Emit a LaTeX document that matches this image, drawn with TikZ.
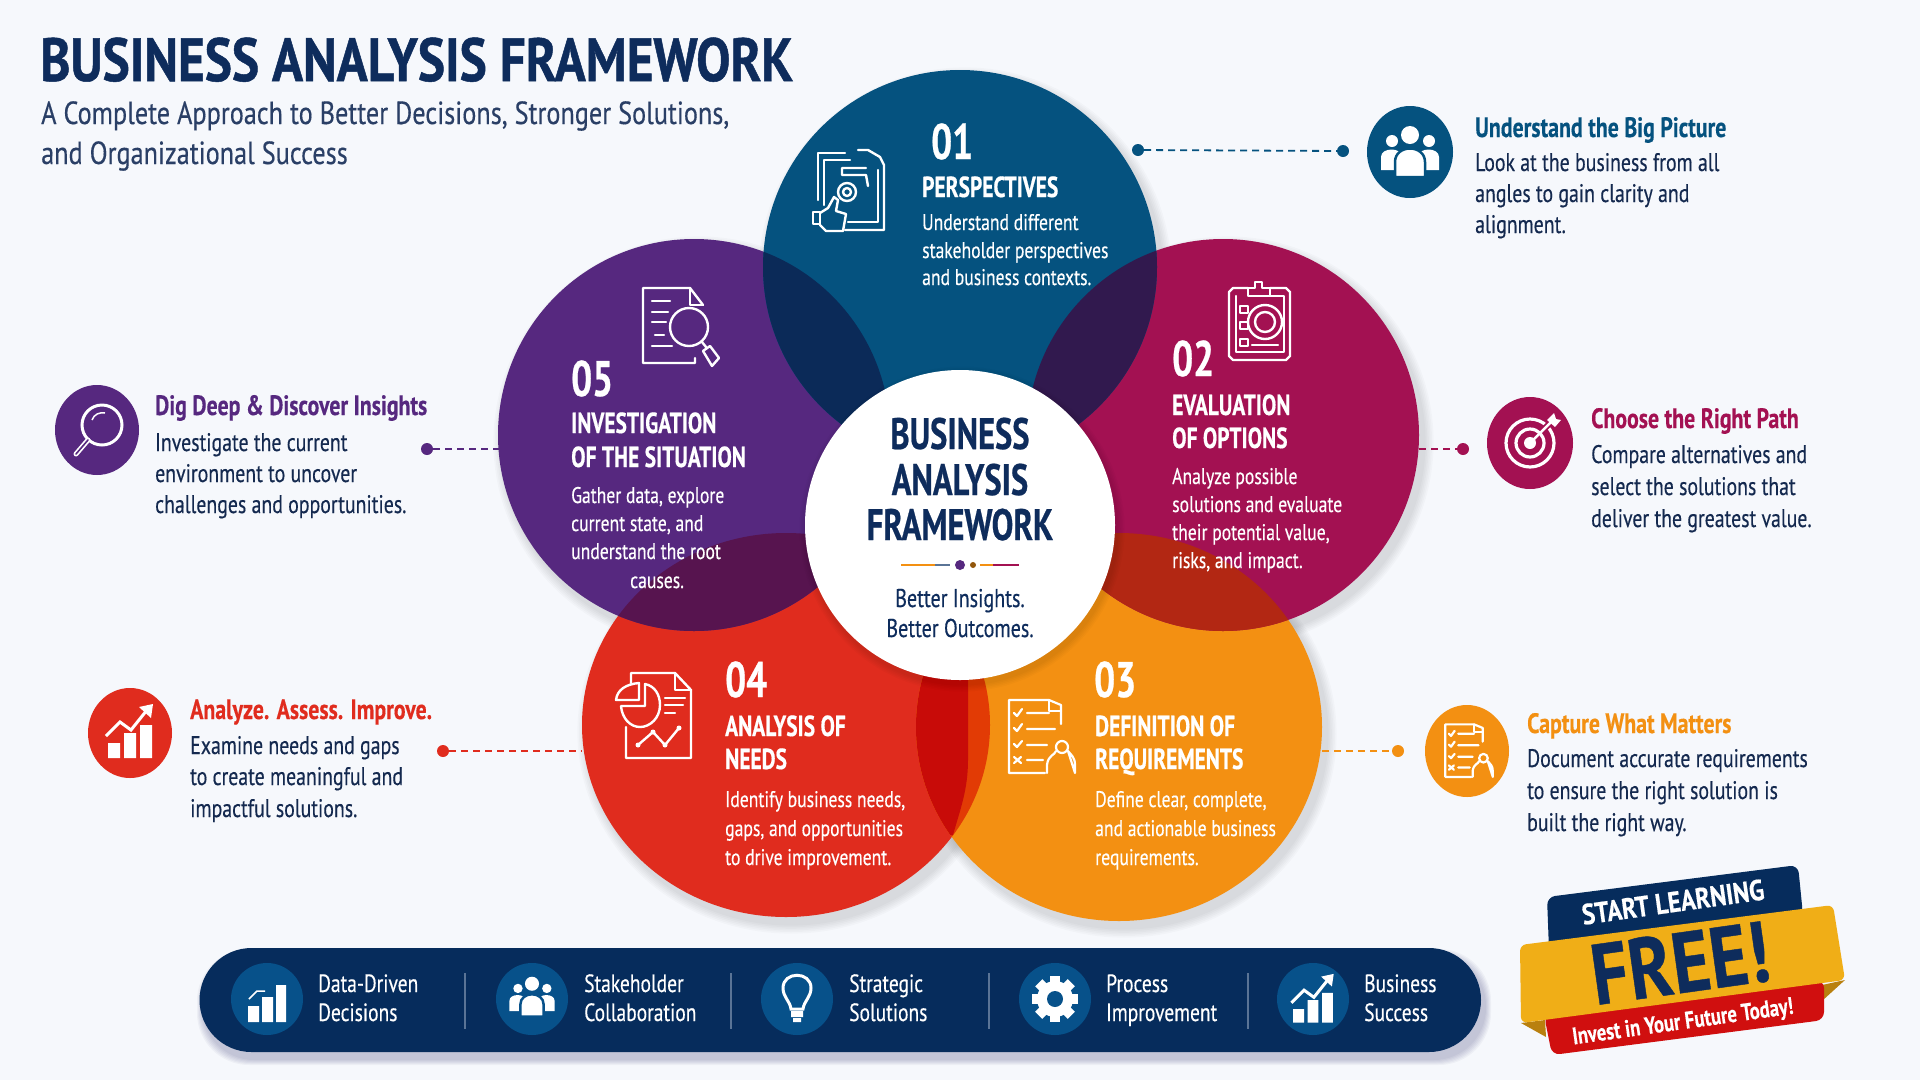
\documentclass[tikz,border=0pt]{standalone}
\usepackage{fontspec}
\setmainfont[FakeStretch=0.78,FakeBold=0.35]{PT Sans}
\newfontfamily\hdfont[FakeStretch=0.74,FakeBold=0.5]{PT Sans}
\newfontfamily\ttfont[FakeStretch=0.84,FakeBold=0.8]{PT Sans}
\newfontfamily\subfont[FakeStretch=0.82,FakeBold=0.35]{PT Sans}
\newfontfamily\frfont[FakeStretch=0.85,FakeBold=0.5]{PT Sans}
\definecolor{bgc}{HTML}{F6F8FC}
\definecolor{navy}{HTML}{0E2C5C}
\definecolor{subc}{HTML}{2A3F66}
\definecolor{bodyc}{HTML}{14294F}
\definecolor{cblue}{HTML}{05527F}
\definecolor{cpurple}{HTML}{56287F}
\definecolor{cmag}{HTML}{A31152}
\definecolor{cred}{HTML}{E02C1E}
\definecolor{corange}{HTML}{F39012}
\definecolor{barc}{HTML}{062C5C}
\definecolor{barci}{HTML}{07518A}
\definecolor{sepc}{HTML}{5A7496}
\definecolor{lbp}{HTML}{0B2A58}
\definecolor{lbm}{HTML}{31194E}
\definecolor{lpr}{HTML}{57144F}
\definecolor{lmo}{HTML}{B22713}
\definecolor{lroa}{HTML}{E23B05}
\definecolor{lrob}{HTML}{C80B08}
\definecolor{fold}{HTML}{B9800F}
\definecolor{bred}{HTML}{D00F0F}
\definecolor{byel}{HTML}{F0AE17}
\newcommand\fs[1]{\fontsize{#1}{#1}\selectfont}
\newcommand\TL[5][]{\node[tl,#1] (#2) at (#3,#4) {#5};}
\newcommand\lens[3]{\begin{scope}\clip #1;\fill[#3] #2;\end{scope}}
\newcommand\shad[1]{\foreach \i in {1,...,6}{\fill[black,opacity=.018] (#1) ++(5,7) ellipse [x radius=\ER+\i*1.6,y radius=\FR+\i*1.6];}}
\newcommand\people[4]{\begin{scope}[shift={(#1,#2)},scale=#3]
 \fill[white] (0,-17) circle [radius=9] (-18,-11) circle [radius=6] (19,-11) circle [radius=6];
 \fill[white] (-29,18) -- (-29,5) .. controls (-29,-5) and (-8,-5) .. (-8,5) -- (-8,18) -- cycle;
 \fill[white] (29,18) -- (29,5) .. controls (29,-5) and (8,-5) .. (8,5) -- (8,18) -- cycle;
 \fill[white,draw=#4,line width=2.5pt] (-15,25) -- (-15,10) .. controls (-15,-8) and (15,-8) .. (15,10) -- (15,25) -- cycle;
\end{scope}}
\newcommand\risechart[4]{\begin{scope}[shift={(#1,#2)},scale=#3]
 \fill[white] (-22,10) rectangle (-10,25) (-6,0) rectangle (6,25) (10,-8) rectangle (22,25);
 \draw[white,line width=3pt] (-24,3) -- (-10,-11) -- (1,-3) -- (17,-23);
 \fill[white] (23,-29) -- (9,-26) -- (21,-15) -- cycle;
\end{scope}}
\newcommand\docreq[3]{\begin{scope}[shift={(#1,#2)},scale=#3,white,line width=2.2pt,line join=round,line cap=round]
 \draw (26,-13) -- (26,-32) -- (14,-37) -- (-26,-37) -- (-26,36) -- (10,36);
 \draw (14,-37) -- (14,-26) -- (26,-26);
 \draw (-21,-24) -- (-18,-21) -- (-13,-28) (-8,-24) -- (14,-24);
 \draw (-21,-9) -- (-18,-6) -- (-13,-13) (-8,-8) -- (20,-8);
 \draw (-21,7) -- (-18,10) -- (-13,4) (-8,8) -- (12,8);
 \draw (-21,20) -- (-14,26) (-14,20) -- (-21,26) (-8,23) -- (8,23);
 \draw (27,10) circle [radius=6];
 \draw (12,36) -- (12,28) .. controls (13,18) and (20,18) .. (21,14) (33,14) .. controls (36,18) and (40,20) .. (40,28) -- (40,36) -- cycle;
\end{scope}}
\begin{document}
\begin{tikzpicture}[x=1pt,y=-1pt,
 tl/.style={anchor=base west,inner sep=0pt},
 tc/.style={anchor=base},
 ttl/.style={font=\ttfont\bfseries\fs{61},text=navy},
 subt/.style={font=\subfont\fs{32},text=subc},
 num/.style={font=\hdfont\bfseries\fs{50},text=white},
 hd/.style={font=\hdfont\bfseries\fs{29},text=white},
 ct/.style={font=\fs{22.6},text=white},
 shd/.style={font=\bfseries\fs{28}},
 sbd/.style={font=\fs{25.4},text=bodyc},
 bart/.style={font=\fs{25},text=white},
 mid/.style={font=\hdfont\bfseries\fs{44},text=navy},
 mids/.style={font=\fs{25.7},text=navy},
 dotn/.style={circle,inner sep=0pt,minimum size=12pt},
 dashl/.style={line width=1.8pt,dash pattern=on 7pt off 5pt},
 ico/.style={white,line width=2.4pt,line join=round,line cap=round}]
\useasboundingbox (0,0) rectangle (1920,1080);
\fill[bgc] (0,0) rectangle (1920,1080);
% centres
\coordinate (B) at (960,267);
\coordinate (P) at (694,435);
\coordinate (M) at (1223,435);
\coordinate (R) at (786,725);
\coordinate (O) at (1119,727);
\coordinate (C) at (960,525);
% shadows
\def\ER{197}\def\FR{197}\shad{B}
\def\ER{196}\def\FR{196}\shad{P}\shad{M}
\def\ER{204}\def\FR{192}\shad{R}
\def\ER{203}\def\FR{194}\shad{O}
% discs
\fill[cred] (R) ellipse [x radius=204,y radius=192];
\fill[corange] (O) ellipse [x radius=203,y radius=194];
\fill[cpurple] (P) circle [radius=196];
\fill[cmag] (M) circle [radius=196];
\fill[cblue] (B) circle [radius=197];
% overlaps
\lens{(B) circle [radius=197]}{(P) circle [radius=196]}{lbp}
\lens{(B) circle [radius=197]}{(M) circle [radius=196]}{lbm}
\lens{(P) circle [radius=196]}{(R) ellipse [x radius=204,y radius=192]}{lpr}
\lens{(M) circle [radius=196]}{(O) ellipse [x radius=203,y radius=194]}{lmo}
\begin{scope}
 \clip (R) ellipse [x radius=204,y radius=192];
 \clip (O) ellipse [x radius=203,y radius=194];
 \fill[lroa] (900,660) rectangle (1000,840);
 \fill[lrob] (900,660) -- (968,660) -- (968,760) .. controls (968,790) and (960,810) .. (953,835) -- (900,840) -- cycle;
\end{scope}
% centre disc
\foreach \i in {1,...,5}{\fill[black,opacity=.02] (C) ++(2,4) circle [radius=155+\i*1.5];}
\fill[white] (C) circle [radius=155];
% title
\TL[ttl]{t1}{40}{81}{BUSINESS ANALYSIS FRAMEWORK}
\TL[subt]{t2}{41}{124}{A Complete Approach to Better Decisions, Stronger Solutions,}
\TL[subt]{t3}{41}{164}{and Organizational Success}
% 01
\TL[num]{n1}{931}{159}{01}
\TL[hd]{h1}{922}{197}{PERSPECTIVES}
\TL[ct]{c1a}{922}{230}{Understand different}
\TL[ct]{c1b}{922}{258}{stakeholder perspectives}
\TL[ct]{c1c}{922}{285}{and business contexts.}
% 05
\TL[num]{n5}{571}{396}{05}
\TL[hd]{h5a}{571}{433}{INVESTIGATION}
\TL[hd]{h5b}{571}{467}{OF THE SITUATION}
\TL[ct]{c5a}{571}{503}{Gather data, explore}
\TL[ct]{c5b}{571}{531}{current state, and}
\TL[ct]{c5c}{571}{559}{understand the root}
\TL[ct]{c5d}{630}{588}{causes.}
% 02
\TL[num]{n2}{1172}{376}{02}
\TL[hd]{h2a}{1172}{415}{EVALUATION}
\TL[hd]{h2b}{1172}{448}{OF OPTIONS}
\TL[ct]{c2a}{1172}{484}{Analyze possible}
\TL[ct]{c2b}{1172}{512}{solutions and evaluate}
\TL[ct]{c2c}{1172}{540}{their potential value,}
\TL[ct]{c2d}{1172}{568}{risks, and impact.}
% 04
\TL[num]{n4}{725}{697}{04}
\TL[hd]{h4a}{725}{736}{ANALYSIS OF}
\TL[hd]{h4b}{725}{769}{NEEDS}
\TL[ct]{c4a}{725}{807}{Identify business needs,}
\TL[ct]{c4b}{725}{836}{gaps, and opportunities}
\TL[ct]{c4c}{725}{865}{to drive improvement.}
% 03
\TL[num]{n3}{1094}{697}{03}
\TL[hd]{h3a}{1095}{736}{DEFINITION OF}
\TL[hd]{h3b}{1095}{769}{REQUIREMENTS}
\TL[ct]{c3a}{1095}{807}{Define clear, complete,}
\TL[ct]{c3b}{1095}{836}{and actionable business}
\TL[ct]{c3c}{1095}{865}{requirements.}
% centre text
\TL[tc,mid]{m1}{960}{449}{BUSINESS}
\TL[tc,mid]{m2}{960}{495}{ANALYSIS}
\TL[tc,mid]{m3}{960}{540}{FRAMEWORK}
\TL[tc,mids]{m4}{960}{607}{Better Insights.}
\TL[tc,mids]{m5}{960}{637}{Better Outcomes.}
\draw[corange,line width=1.8pt] (901,565) -- (935,565);
\draw[sepc,line width=1.8pt] (935,565) -- (950,565);
\fill[cpurple] (960,565) circle [radius=5];
\fill[corange!60!black] (973,565) circle [radius=3];
\draw[corange,line width=1.8pt] (980,565) -- (993,565);
\draw[cmag,line width=1.8pt] (993,565) -- (1019,565);
% side callouts: icon discs
\fill[cblue] (1410,152) ellipse [x radius=43,y radius=46];
\people{1410}{152}{1}{cblue}
\fill[cmag] (1530,443) ellipse [x radius=43,y radius=46];
\begin{scope}[shift={(1530,443)}]
 \draw[white,line width=3.2pt] (0,0) circle [radius=24] (0,0) circle [radius=14];
 \fill[white] (0,0) circle [radius=6];
 \draw[cmag,line width=6pt] (12,-12) -- (28,-28);
 \draw[white,line width=2.5pt] (0,0) -- (22,-22);
 \fill[white] (17,-23) -- (24,-30) -- (26,-24) -- (31,-23) -- (25,-16) -- cycle;
\end{scope}
\fill[cpurple] (97,430) ellipse [x radius=42,y radius=45];
\draw[white,line width=3pt] (102,425) circle [radius=20];
\draw[white,line width=5pt,line cap=round] (88,440) -- (76,454);
\draw[cpurple,line width=1.6pt,line cap=round] (88,440) -- (76,454);
\draw[white,line width=1.5pt] (92,420) .. controls (94,414) and (100,412) .. (105,413);
\fill[cred] (130,733) ellipse [x radius=42,y radius=45];
\risechart{130}{733}{1}{cred}
\fill[corange] (1467,751) ellipse [x radius=42,y radius=46];
\docreq{1464}{751}{.72}{corange}
% side text
\TL[shd,text=cblue]{s1}{1475}{137}{Understand the Big Picture}
\TL[sbd]{s1a}{1475}{171}{Look at the business from all}
\TL[sbd]{s1b}{1475}{202}{angles to gain clarity and}
\TL[sbd]{s1c}{1475}{233}{alignment.}
\TL[shd,text=cmag]{s2}{1591}{428}{Choose the Right Path}
\TL[sbd]{s2a}{1591}{463}{Compare alternatives and}
\TL[sbd]{s2b}{1591}{495}{select the solutions that}
\TL[sbd]{s2c}{1591}{527}{deliver the greatest value.}
\TL[shd,text=cpurple]{s5}{155}{415}{Dig Deep \& Discover Insights}
\TL[sbd]{s5a}{155}{451}{Investigate the current}
\TL[sbd]{s5b}{155}{482}{environment to uncover}
\TL[sbd]{s5c}{155}{513}{challenges and opportunities.}
\TL[shd,text=cred]{s4}{190}{719}{Analyze. Assess. Improve.}
\TL[sbd]{s4a}{190}{754}{Examine needs and gaps}
\TL[sbd]{s4b}{190}{785}{to create meaningful and}
\TL[sbd]{s4c}{190}{817}{impactful solutions.}
\TL[shd,text=corange]{s3}{1527}{733}{Capture What Matters}
\TL[sbd]{s3a}{1527}{767}{Document accurate requirements}
\TL[sbd]{s3b}{1527}{799}{to ensure the right solution is}
\TL[sbd]{s3c}{1527}{831}{built the right way.}
% connectors
\node[dotn,fill=cblue] (d1a) at (1138,150) {};
\node[dotn,fill=cblue] (d1b) at (1343,151) {};
\draw[cblue,dashl] (d1a) -- (d1b);
\node[dotn,fill=cmag] (d2) at (1463,449) {};
\coordinate (e2) at (1419,449);
\draw[cmag,dashl] (e2) -- (d2);
\node[dotn,fill=cpurple] (d5) at (427,449) {};
\coordinate (e5) at (499,449);
\draw[cpurple,dashl] (d5) -- (e5);
\node[dotn,fill=cred] (d4) at (443,751) {};
\coordinate (e4) at (582,751);
\draw[cred,dashl] (d4) -- (e4);
\node[dotn,fill=corange] (d3) at (1398,751) {};
\coordinate (e3) at (1322,751);
\draw[corange,dashl] (e3) -- (d3);
% icons in discs
\begin{scope}[ico]
 % 01
 \draw (845,230) -- (884,230) -- (884,165) -- (880,157) -- (868,150) -- (858,150);
 \draw (845,153) -- (818,153) -- (818,200);
 \draw (824,205) -- (824,160) -- (850,160);
 \draw (866,168) -- (842,168) -- (842,175) -- (866,175) -- (868,186);
 \draw (878,170) -- (878,222) -- (848,222);
 \draw (847,192) circle [radius=9] (847,192) circle [radius=4];
 \draw (813,212) -- (813,224) -- (820,224) -- (820,212) -- cycle;
 \draw (820,213) -- (828,208) -- (834,197) -- (838,200) -- (836,211) -- (846,214) -- (843,231) -- (826,231) -- (820,225);
 % 05
 \draw (703,305) -- (690,288) -- (643,288) -- (643,363) -- (695,363) -- (695,358);
 \draw (690,288) -- (690,305) -- (703,305);
 \draw (652,301) -- (670,301) (652,312) -- (668,312) (652,322) -- (666,322) (655,335) -- (664,335) (652,346) -- (672,346);
 \draw (689,327) circle [radius=19];
 \draw (702,342) -- (706,347);
 \draw (703,351) -- (710,346) -- (719,358) -- (712,366) -- cycle;
 % 02
 \draw (1248,288) -- (1233,288) -- (1229,292) -- (1229,356) -- (1233,360) -- (1286,360) -- (1290,356) -- (1290,292) -- (1286,288) -- (1270,288);
 \draw (1236,296) -- (1236,352) -- (1284,352) -- (1284,296) -- (1270,296);
 \draw (1248,296) -- (1248,288) -- (1255,288) -- (1255,282) -- (1262,282) -- (1262,288) -- (1270,288) -- (1270,296) -- cycle;
 \draw (1265,322) circle [radius=17] (1265,322) circle [radius=10];
 \draw (1240,306) rectangle (1248,313) (1240,322) rectangle (1248,329) (1240,339) rectangle (1248,346);
 \draw (1252,345) -- (1278,345);
 % 04
 \draw (626,727) -- (626,758) -- (691,758) -- (691,690) -- (675,673) -- (631,673) -- (631,683);
 \draw (675,673) -- (675,690) -- (691,690);
 \draw (621,706) -- (645,706) -- (645,684) .. controls (655,686) and (660,695) .. (660,705) .. controls (660,718) and (650,727) .. (640,727) .. controls (630,727) and (622,718) .. (621,706);
 \draw (616,700) -- (639,700) -- (639,683) .. controls (626,684) and (617,690) .. (616,700) -- cycle;
 \draw (665,698) -- (685,698) (665,705) -- (683,705) (665,713) -- (675,713);
 \draw (638,745) -- (653,732) -- (665,745) -- (679,728);
 \fill[white] (638,745) circle [radius=2.5] (653,732) circle [radius=2.5] (665,745) circle [radius=2.5] (679,728) circle [radius=2.5];
\end{scope}
\docreq{1035}{737}{1}{corange}
% bottom bar
\foreach \i in {1,...,6}{\fill[black!70!blue,opacity=.035,rounded corners=52pt] (199-\i*1+4,948-\i*1+7) rectangle (1481+\i*1+4,1052+\i*1+7);}
\fill[barc,rounded corners=52pt] (199.5,948) rectangle (1481,1052);
\foreach \x in {465,731,989,1248}{\draw[sepc,line width=1.2pt] (\x,973) -- (\x,1029);}
\foreach \x in {267,532,797,1055,1313}{\fill[barci] (\x,999) ellipse [x radius=36,y radius=36];}
\begin{scope}[shift={(267,999)}]
 \fill[white] (-19,7) rectangle (-8,23) (-5,-2) rectangle (6,23) (9,-14) rectangle (19,23);
 \draw[white,line width=1.5pt] (-18,0) -- (-10,-8) -- (-2,-8);
\end{scope}
\people{532}{997}{.78}{barci}
\begin{scope}[shift={(797,999)}]
 \draw[white,line width=3pt] (-6,10) .. controls (-7,2) and (-14,-2) .. (-14,-11) .. controls (-14,-28) and (14,-28) .. (14,-11) .. controls (14,-2) and (7,2) .. (6,10) -- cycle;
 \fill[white] (-6,12) rectangle (6,18) (-4,19) rectangle (4,23);
\end{scope}
\begin{scope}[shift={(1055,999)}]
 \foreach \a in {0,45,...,315}{\fill[white,rotate=\a] (-5,-23) rectangle (5,-14);}
 \fill[white] (0,0) circle [radius=18];
 \fill[barci] (0,0) circle [radius=8];
\end{scope}
\risechart{1313}{1000}{.9}{barci}
\TL[bart]{b1a}{318}{992}{Data-Driven}
\TL[bart]{b1b}{318}{1021}{Decisions}
\TL[bart]{b2a}{584}{992}{Stakeholder}
\TL[bart]{b2b}{584}{1021}{Collaboration}
\TL[bart]{b3a}{849}{992}{Strategic}
\TL[bart]{b3b}{849}{1021}{Solutions}
\TL[bart]{b4a}{1106}{992}{Process}
\TL[bart]{b4b}{1106}{1021}{Improvement}
\TL[bart]{b5a}{1364}{992}{Business}
\TL[bart]{b5b}{1364}{1021}{Success}
% badge
\fill[barc,rounded corners=8pt] (1547,897) -- (1798,865) -- (1803,915) -- (1549,950) -- cycle;
\fill[fold] (1521,1023) -- (1545,1020) -- (1546,1037) -- cycle;
\fill[fold] (1845,980) -- (1822,985) -- (1823,1000) -- cycle;
\fill[bred,rounded corners=8pt] (1544,1015) -- (1824,980) -- (1824,1020) -- (1552,1055) -- cycle;
\fill[byel,rounded corners=6pt] (1520,945) -- (1833,905) -- (1845,980) -- (1521,1023) -- cycle;
\node[rotate=8,inner sep=0pt,font=\frfont\bfseries\fs{29},text=white] (f1) at (1673,902) {START LEARNING};
\node[rotate=8,inner sep=0pt,font=\frfont\bfseries\fs{86},text=navy] (f2) at (1680,963) {FREE!};
\node[rotate=8,inner sep=0pt,font=\bfseries\fs{24},text=white] (f3) at (1683,1023) {Invest in Your Future Today!};
\end{tikzpicture}
\end{document}
